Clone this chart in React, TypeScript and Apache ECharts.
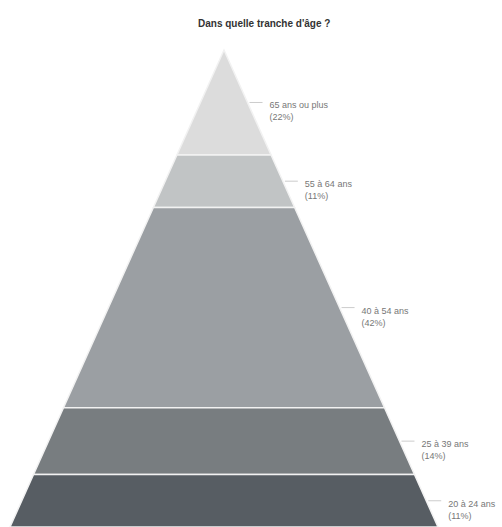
import React, { useEffect, useRef } from "react";
import * as echarts from "echarts";

const categories = ["65 ans ou plus", "55 à 64 ans", "40 à 54 ans", "25 à 39 ans", "20 à 24 ans"];
const percentages = [22, 11, 42, 14, 11];
const colors = ["#dcdcdc", "#c1c4c5", "#9b9fa3", "#787d80", "#575d63"];
const titleText = "Dans quelle tranche d'âge ?";

export default function App() {
  const ref = useRef<HTMLDivElement>(null);
  useEffect(() => {
    document.body.style.margin = "0";
    if (!ref.current) return;
    const chart = echarts.init(ref.current, null, { renderer: "svg" });
    const total = percentages.reduce((a, b) => a + b, 0);
    let acc = 0;
    const data = percentages.map((p, i) => {
      const s = (acc / total) * 100;
      acc += p;
      const e = (acc / total) * 100;
      return [s, e, i, p];
    });
    chart.setOption({
      animation: false,
      title: {
        text: titleText,
        left: 193,
        top: 13,
        textStyle: { fontSize: 10, fontWeight: "bold", color: "#333", fontFamily: "Liberation Sans" },
      },
      grid: { left: 10, top: 50, width: 428, height: 484 },
      xAxis: { type: "value", min: -50, max: 50, show: false },
      yAxis: { type: "value", min: 0, max: 100, inverse: true, show: false },
      series: [
        {
          type: "custom",
          data,
          renderItem: (params: any, api: any) => {
            const s = api.value(0);
            const e = api.value(1);
            const idx = api.value(2);
            const p = api.value(3);
            const a = api.coord([-s / 2, s]);
            const b = api.coord([s / 2, s]);
            const c = api.coord([e / 2, e]);
            const d = api.coord([-e / 2, e]);
            const m = (s + e) / 2;
            const edge = api.coord([m / 2, m]);
            return {
              type: "group",
              children: [
                {
                  type: "polygon",
                  shape: { points: [a, b, c, d] },
                  style: { fill: colors[idx], stroke: "#f2f2f2", lineWidth: 1.5 },
                },
                {
                  type: "line",
                  shape: { x1: edge[0] + 2, y1: edge[1], x2: edge[0] + 15, y2: edge[1] },
                  style: { stroke: "#cccccc", lineWidth: 1 },
                },
                {
                  type: "text",
                  x: edge[0] + 22,
                  y: edge[1] - 3,
                  style: {
                    text: categories[idx] + "\n(" + p + "%)",
                    fill: "#777",
                    fontSize: 9,
                    lineHeight: 12,
                    fontFamily: "Liberation Sans",
                    verticalAlign: "top",
                    align: "left",
                  },
                },
              ],
            };
          },
        },
      ],
    });
    return () => chart.dispose();
  }, []);
  return <div ref={ref} style={{ width: 502, height: 527 }} />;
}
